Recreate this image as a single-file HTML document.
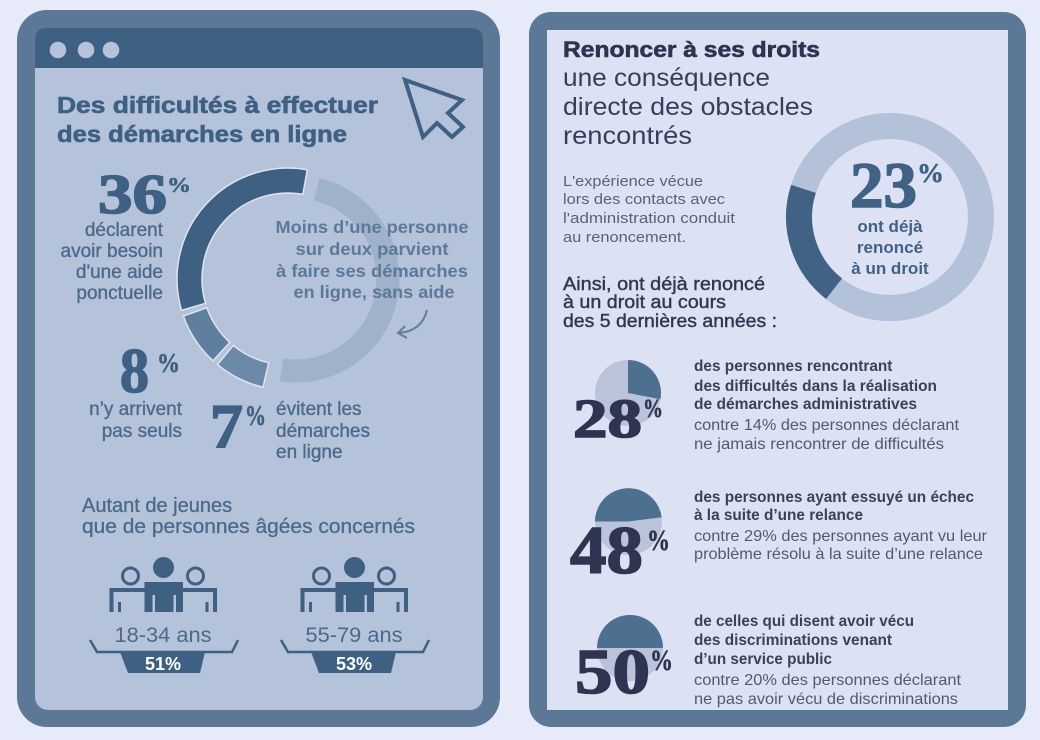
<!DOCTYPE html>
<html><head><meta charset="utf-8"><style>
html,body{margin:0;padding:0;background:#e6eaf9;}
svg{display:block;}
text{font-family:"Liberation Sans",sans-serif;}
.sf{font-family:"Liberation Serif",serif;font-weight:bold;}
</style></head><body>
<svg width="1040" height="740" viewBox="0 0 1040 740" xmlns="http://www.w3.org/2000/svg">
<rect width="1040" height="740" fill="#e6eaf9"/>

<!-- LEFT PANEL -->
<rect x="17" y="10" width="483" height="717" rx="30" fill="#5b7896"/>
<rect x="35" y="28" width="448" height="682" rx="13" fill="#b4c2da"/>
<path d="M35,68 V40 Q35,28 47,28 H471 Q483,28 483,40 V68 Z" fill="#3e6082"/>
<circle cx="58" cy="50" r="8.3" fill="#b4c2da"/>
<circle cx="86" cy="50" r="8.3" fill="#b4c2da"/>
<circle cx="111" cy="50" r="8.3" fill="#b4c2da"/>

<!-- cursor -->
<path d="M405,80 L462,100 L448,113 L463,127 L452,137 L437,123 L423,137 Z" fill="none" stroke="#3e6082" stroke-width="4" stroke-linejoin="miter"/>

<g font-size="23" font-weight="bold" fill="#3e6082" stroke="#3e6082" stroke-width="0.6">
<text x="57" y="113" textLength="321" lengthAdjust="spacingAndGlyphs">Des difficultés à effectuer</text>
<text x="57" y="142" textLength="290" lengthAdjust="spacingAndGlyphs">des démarches en ligne</text>
</g>

<!-- donut left -->
<path d="M316.7,189.4 A92,92 0 0 1 281.6,369.9" fill="none" stroke="#a0b1ca" stroke-width="23"/>
<path d="M181.5,310.3 A111,111 0 0 1 307.3,169.7 L302.9,194.3 A86,86 0 0 0 205.5,303.3 Z" fill="#3e6082" stroke="#dfe5f0" stroke-width="1.5"/>
<path d="M213.0,360.8 A111,111 0 0 1 183.4,316.1 L206.9,307.7 A86,86 0 0 0 229.9,342.4 Z" fill="#5f7fa0" stroke="#dfe5f0" stroke-width="1.5"/>
<path d="M263.0,387.2 A111,111 0 0 1 217.4,364.6 L233.3,345.4 A86,86 0 0 0 268.7,362.8 Z" fill="#6b89a8" stroke="#dfe5f0" stroke-width="1.5"/>

<!-- 36% -->
<g stroke="#3e6082" stroke-width="1.6" fill="#3e6082">
<text class="sf" x="98" y="213" font-size="56" textLength="69" lengthAdjust="spacingAndGlyphs">36</text>
<text class="sf" x="167" y="192" font-size="21" stroke-width="0.6" textLength="24" lengthAdjust="spacingAndGlyphs">%</text>
</g>
<g font-size="19" fill="#4b6a8b" stroke="#4b6a8b" stroke-width="0.35" text-anchor="end">
<text x="163" y="236">déclarent</text>
<text x="163" y="257">avoir besoin</text>
<text x="163" y="278">d'une aide</text>
<text x="163" y="299">ponctuelle</text>
</g>

<g font-size="17.5" font-weight="bold" fill="#5b7a9a" text-anchor="middle">
<text x="372" y="233" textLength="193" lengthAdjust="spacingAndGlyphs">Moins d’une personne</text>
<text x="372" y="255" textLength="153" lengthAdjust="spacingAndGlyphs">sur deux parvient</text>
<text x="372" y="277" textLength="192" lengthAdjust="spacingAndGlyphs">à faire ses démarches</text>
<text x="374" y="298" textLength="161" lengthAdjust="spacingAndGlyphs">en ligne, sans aide</text>
</g>
<path d="M427,310 Q422,331 399,333" fill="none" stroke="#5f7e9e" stroke-width="2"/>
<path d="M405,326 L398,333 L407,338" fill="none" stroke="#5f7e9e" stroke-width="2"/>

<!-- 8% -->
<g stroke="#3e6082" stroke-width="1.6" fill="#3e6082">
<text class="sf" x="120" y="392" font-size="64" textLength="29" lengthAdjust="spacingAndGlyphs">8</text>
<text class="sf" x="157" y="372" font-size="27" stroke-width="0.6" textLength="23" lengthAdjust="spacingAndGlyphs">%</text>
</g>
<g font-size="19" fill="#4b6a8b" stroke="#4b6a8b" stroke-width="0.35" text-anchor="end">
<text x="182" y="415">n’y arrivent</text>
<text x="182" y="437">pas seuls</text>
</g>

<!-- 7% -->
<g stroke="#3e6082" stroke-width="1.6" fill="#3e6082">
<text class="sf" x="210" y="447" font-size="62" textLength="33" lengthAdjust="spacingAndGlyphs">7</text>
<text class="sf" x="245" y="425" font-size="28" stroke-width="0.6" textLength="21" lengthAdjust="spacingAndGlyphs">%</text>
</g>
<g font-size="19" fill="#4b6a8b" stroke="#4b6a8b" stroke-width="0.35">
<text x="276" y="415">évitent les</text>
<text x="276" y="437">démarches</text>
<text x="276" y="458">en ligne</text>
</g>

<g font-size="20" fill="#4b6a8b" stroke="#4b6a8b" stroke-width="0.3">
<text x="82" y="512">Autant de jeunes</text>
<text x="82" y="533" textLength="333" lengthAdjust="spacingAndGlyphs">que de personnes âgées concernés</text>
</g>

<!-- people group 1 -->
<g id="grp">
<circle cx="163.5" cy="567.5" r="10.5" fill="#3e6082"/>
<rect x="144.5" y="582" width="38.5" height="30" fill="#3e6082"/>
<rect x="152.5" y="595" width="2.5" height="17" fill="#b4c2da"/>
<rect x="173.5" y="595" width="2.5" height="17" fill="#b4c2da"/>
<circle cx="130.5" cy="576" r="8" fill="none" stroke="#3e6082" stroke-width="3"/>
<circle cx="195.5" cy="576" r="8" fill="none" stroke="#3e6082" stroke-width="3"/>
<rect x="109.5" y="588" width="36" height="4" fill="#3e6082"/>
<rect x="109.5" y="588" width="4" height="24" fill="#3e6082"/>
<rect x="118" y="602" width="3" height="10" fill="#3e6082"/>
<rect x="182" y="588" width="35" height="4" fill="#3e6082"/>
<rect x="213" y="588" width="4" height="24" fill="#3e6082"/>
<rect x="205.5" y="602" width="3" height="10" fill="#3e6082"/>
<polyline points="90,640 97,652 232,652 238,640" fill="none" stroke="#3e6082" stroke-width="2.5"/>
<polygon points="120,652 205,652 200,673 128,673" fill="#3e6082"/>
</g>
<use href="#grp" transform="translate(191,0)"/>
<text x="163" y="642" font-size="21" fill="#4b6a8b" text-anchor="middle" textLength="97" lengthAdjust="spacingAndGlyphs">18-34 ans</text>
<text x="354" y="642" font-size="21" fill="#4b6a8b" text-anchor="middle" textLength="97" lengthAdjust="spacingAndGlyphs">55-79 ans</text>
<text x="163" y="670" font-size="18" font-weight="bold" fill="#ffffff" text-anchor="middle">51%</text>
<text x="354" y="670" font-size="18" font-weight="bold" fill="#ffffff" text-anchor="middle">53%</text>

<!-- RIGHT PANEL -->
<rect x="529" y="12" width="497" height="715" rx="22" fill="#5b7896"/>
<rect x="547" y="30" width="461" height="680" fill="#dde1f4"/>

<text x="563" y="57" font-size="22" font-weight="bold" fill="#2c3550" stroke="#2c3550" stroke-width="0.6" textLength="257" lengthAdjust="spacingAndGlyphs">Renoncer à ses droits</text>
<g font-size="25" fill="#363f5a">
<text x="563" y="86" textLength="207" lengthAdjust="spacingAndGlyphs">une conséquence</text>
<text x="563" y="115" textLength="250" lengthAdjust="spacingAndGlyphs">directe des obstacles</text>
<text x="563" y="144" textLength="129" lengthAdjust="spacingAndGlyphs">rencontrés</text>
</g>
<g font-size="15" fill="#58627a">
<text x="563" y="186" textLength="140" lengthAdjust="spacingAndGlyphs">L'expérience vécue</text>
<text x="563" y="204" textLength="162" lengthAdjust="spacingAndGlyphs">lors des contacts avec</text>
<text x="563" y="223" textLength="172" lengthAdjust="spacingAndGlyphs">l'administration conduit</text>
<text x="563" y="242" textLength="123" lengthAdjust="spacingAndGlyphs">au renoncement.</text>
</g>
<g font-size="18" fill="#2f3852" stroke="#2f3852" stroke-width="0.4">
<text x="563" y="290" textLength="202" lengthAdjust="spacingAndGlyphs">Ainsi, ont déjà renoncé</text>
<text x="563" y="308" textLength="163" lengthAdjust="spacingAndGlyphs">à un droit au cours</text>
<text x="563" y="327" textLength="214" lengthAdjust="spacingAndGlyphs">des 5 dernières années :</text>
</g>

<!-- donut right -->
<circle cx="890" cy="217" r="91" fill="none" stroke="#b3c1d9" stroke-width="26"/>
<path d="M834.0,288.7 A91,91 0 0 1 803.5,188.9" fill="none" stroke="#3f6285" stroke-width="26"/>
<g stroke="#3f6285" stroke-width="1.6" fill="#3f6285">
<text class="sf" x="850" y="207" font-size="65" textLength="67" lengthAdjust="spacingAndGlyphs">23</text>
<text class="sf" x="917" y="182" font-size="27" stroke-width="0.6" textLength="27" lengthAdjust="spacingAndGlyphs">%</text>
</g>
<g font-size="17" font-weight="bold" fill="#3f6285" text-anchor="middle">
<text x="890" y="232">ont déjà</text>
<text x="890" y="253">renoncé</text>
<text x="890" y="274">à un droit</text>
</g>

<!-- pies -->
<circle cx="628" cy="393" r="33" fill="#b9c4da"/>
<path d="M628,393 L628,360 A33,33 0 0 1 660.4,399.2 Z" fill="#4d7091"/>
<circle cx="628.5" cy="521.5" r="33.5" fill="#b9c4da"/>
<path d="M628.5,521.5 L595,521.5 A33.5,33.5 0 0 1 661.7,517.3 Z" fill="#4d7091"/>
<circle cx="630" cy="648" r="33" fill="#b9c4da"/>
<path d="M630,648 L597,648 A33,33 0 0 1 663,648 Z" fill="#4d7091"/>

<g stroke="#2f3550" stroke-width="1.6" fill="#2f3550">
<text class="sf" x="573" y="437" font-size="55" textLength="69" lengthAdjust="spacingAndGlyphs">28</text>
<text class="sf" x="643" y="417" font-size="26" stroke-width="0.6" textLength="20" lengthAdjust="spacingAndGlyphs">%</text>
<text class="sf" x="570" y="573" font-size="68" textLength="73" lengthAdjust="spacingAndGlyphs">48</text>
<text class="sf" x="647" y="550" font-size="30" stroke-width="0.6" textLength="23" lengthAdjust="spacingAndGlyphs">%</text>
<text class="sf" x="575" y="693" font-size="64" textLength="75" lengthAdjust="spacingAndGlyphs">50</text>
<text class="sf" x="650" y="670" font-size="30" stroke-width="0.6" textLength="23" lengthAdjust="spacingAndGlyphs">%</text>
</g>

<g font-size="15.4" font-weight="bold" fill="#3a4258">
<text x="694" y="371">des personnes rencontrant</text>
<text x="694" y="391" textLength="243" lengthAdjust="spacingAndGlyphs">des difficultés dans la réalisation</text>
<text x="694" y="409" textLength="223" lengthAdjust="spacingAndGlyphs">de démarches administratives</text>
<text x="694" y="502" textLength="280" lengthAdjust="spacingAndGlyphs">des personnes ayant essuyé un échec</text>
<text x="694" y="520" textLength="169" lengthAdjust="spacingAndGlyphs">à la suite d’une relance</text>
<text x="694" y="626" textLength="220" lengthAdjust="spacingAndGlyphs">de celles qui disent avoir vécu</text>
<text x="694" y="645" textLength="198" lengthAdjust="spacingAndGlyphs">des discriminations venant</text>
<text x="694" y="664" textLength="138" lengthAdjust="spacingAndGlyphs">d’un service public</text>
</g>
<g font-size="16" fill="#505a70">
<text x="694" y="430" textLength="265" lengthAdjust="spacingAndGlyphs">contre 14% des personnes déclarant</text>
<text x="694" y="449" textLength="250" lengthAdjust="spacingAndGlyphs">ne jamais rencontrer de difficultés</text>
<text x="694" y="541" textLength="293" lengthAdjust="spacingAndGlyphs">contre 29% des personnes ayant vu leur</text>
<text x="694" y="559" textLength="289" lengthAdjust="spacingAndGlyphs">problème résolu à la suite d’une relance</text>
<text x="694" y="685" textLength="267" lengthAdjust="spacingAndGlyphs">contre 20% des personnes déclarant</text>
<text x="694" y="704" textLength="264" lengthAdjust="spacingAndGlyphs">ne pas avoir vécu de discriminations</text>
</g>
</svg>
</body></html>
